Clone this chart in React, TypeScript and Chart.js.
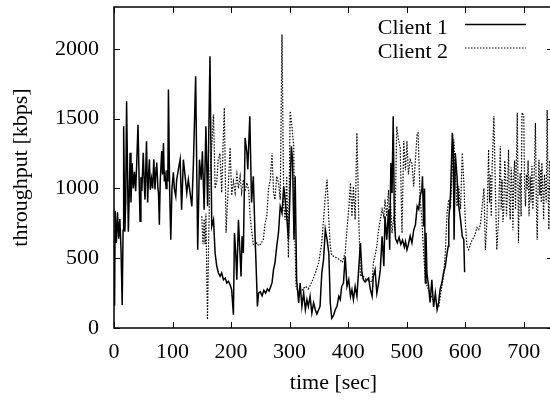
import React, { useEffect, useRef } from "react";
import { Chart, registerables } from "chart.js";

Chart.register(...registerables);

const xTickValues = [0, 100, 200, 300, 400, 500, 600, 700];
const yTickValues = [0, 500, 1000, 1500, 2000];
const seriesLabels = ["Client 1", "Client 2"];
const xTitle = "time [sec]";
const yTitle = "throughput [kbps]";

const client1Time = [
  0, 1, 2, 4, 6, 8, 10, 12, 14, 15.5, 16.5, 18.5, 20, 21.5, 24.5, 26, 27.5, 29, 31, 33, 35, 37, 39, 41, 43, 44.5,
  46, 47.5, 50, 52, 53, 55.5, 57.5, 59, 60.5, 62, 64, 66, 68, 70, 72, 73, 75, 76, 77.5, 79, 81.5, 83, 84.5, 86,
  87.5, 89, 90.5, 92, 93, 95, 97, 99, 101.5, 103, 105.5, 107, 110, 113, 115.5, 118.5, 121.5, 124.3, 127, 130, 133,
  135.7, 139.5, 143, 146, 149, 151, 154, 157, 160, 164, 167, 170, 172.7, 175.6, 178.5, 181.3, 184, 187, 190, 192.7,
  195.5, 198.4, 201, 204, 205.8, 208, 209.8, 212.6, 215.5, 217, 218.8, 221, 224, 227, 228.6, 232, 235, 238, 241,
  243, 245, 247, 250, 253, 256, 259, 262, 265, 268, 270, 272.5, 275, 278, 281, 284, 287, 290, 292.4, 295, 298, 300,
  303, 305, 307.5, 309.5, 312, 315.5, 318, 321, 324, 327, 329.6, 332, 335, 338, 341, 344, 346.6, 349.6, 352, 355,
  358, 361, 364, 367, 369.5, 372, 375, 378, 381, 384, 386.5, 389, 392, 395, 398, 401, 404, 406.5, 409, 412, 415,
  418, 421, 423.6, 426, 429, 432, 435, 438, 441, 443, 446, 449, 452, 455, 458, 461, 463, 466, 469, 471, 473, 475,
  477, 479, 481, 484, 487, 490, 493, 496, 498, 500.5, 503, 506, 509, 512, 515, 518, 520.6, 523, 526, 527, 529,
  530.5, 532, 533, 534.6, 537.5, 540, 543, 546, 549, 552, 554.6, 557, 560, 563, 566, 569, 571, 572, 575, 578,
  579.5, 581, 583, 586, 589, 592, 595, 597.6, 599,
];
const client1Kbps = [
  600, 160, 840, 610, 830, 640, 780, 560, 165, 700, 1445, 690, 900, 1624, 690, 950, 1256, 900, 1180, 1000, 1120, 980,
  1200, 1457, 1050, 764, 1080, 980, 1256, 1000, 920, 1338, 900, 1100, 1208, 990, 1070, 1000, 1208, 993, 1150, 1185,
  1000, 970, 740, 1050, 1268, 1100, 1326, 1050, 1090, 1000, 1130, 1050, 1708, 1000, 633, 1000, 1115, 1000, 945, 1060,
  1137, 1208, 848, 1206, 1087, 968, 1063, 968, 872, 1183, 1803, 561, 1206, 1063, 1266, 848, 1445, 872, 1947, 728,
  776, 537, 442, 394, 370, 394, 346, 358, 322, 334, 310, 275, 95, 680, 537, 346, 776, 514, 370, 657, 537, 1362, 1256,
  1137, 1517, 900, 1087, 657, 418, 155, 250, 260, 230, 270, 250, 280, 265, 300, 325, 418, 466, 585, 681, 872, 824,
  1015, 920, 800, 633, 872, 1302, 1206, 633, 1087, 346, 180, 322, 155, 250, 131, 203, 155, 227, 107, 180, 131, 100,
  131, 155, 394, 490, 705, 633, 537, 180, 70, 90, 131, 155, 227, 203, 298, 322, 513, 298, 346, 227, 275, 203, 298,
  227, 418, 609, 394, 346, 330, 346, 358, 275, 227, 370, 418, 250, 322, 418, 657, 442, 800, 633, 848, 561, 1183,
  968, 1517, 776, 640, 610, 650, 600, 630, 580, 620, 560, 600, 660, 610, 700, 740, 872, 850, 945, 993, 1087, 728,
  1000, 322, 680, 394, 298, 183, 346, 150, 250, 131, 180, 275, 322, 394, 442, 537, 585, 776, 968, 1398, 1302, 633,
  1254, 1087, 872, 776, 657, 633, 400,
];

const client2Time = [
  150, 152, 154, 155.5, 157, 159.7, 162, 164, 167, 170, 172.8, 175.6, 178, 181, 184, 187, 188.5, 191.5, 194.5,
  198.4, 201, 204, 207, 210, 212.6, 215.5, 218, 221, 224, 227, 230, 232.6, 235, 238, 241, 244, 247, 250, 255, 258,
  261, 264, 267, 270, 272.6, 275, 278, 281, 284, 287, 290, 292.4, 295, 298, 301, 304, 307, 309, 311, 315.5, 321,
  327, 332, 338, 344, 349.6, 355, 358, 361, 364, 367, 369.5, 372, 378, 381, 386, 390, 395, 398, 401, 404, 406.5,
  409, 412, 415, 418, 421, 423.6, 426, 430, 435, 441, 443, 446, 449, 452, 455, 458, 461, 463, 466, 469, 471, 472.5,
  475, 478, 480, 483, 486, 489, 492, 495, 498, 500.5, 503, 506, 509, 512, 515, 518, 519.5, 523, 526, 529, 532, 535,
  540, 545, 550, 555, 560, 563, 566, 569, 572, 575, 578, 580.5, 583, 586, 589, 592, 595, 598, 600, 603, 606, 609,
  612, 615, 617.5, 620, 623, 626, 629, 632, 634.5, 637, 640, 641.5, 643, 644.5, 646, 649, 651.6, 654, 657, 660,
  661.5, 663, 664.5, 666, 667.5, 669, 670.5, 672, 674, 675.5, 677, 678.5, 680, 681.5, 683, 684.5, 686, 689, 691,
  692.5, 694, 695.5, 697, 700, 701.5, 703, 704.5, 706, 707.5, 709, 711, 712.5, 714, 715.5, 717, 718.5, 720, 721.5,
  723, 724.5, 726, 727.5, 729, 730, 731, 732.5, 734, 735.5, 737, 738.5, 740, 741.5, 743, 744.5, 746, 748, 750,
];
const client2Kbps = [
  800, 600, 780, 600, 820, 60, 700, 1112, 1300, 1530, 1000, 1050, 1206, 1250, 970, 1400, 1577, 683, 950, 1292, 950,
  1050, 970, 1100, 1000, 1087, 970, 1063, 980, 1040, 990, 800, 700, 600, 585, 610, 590, 600, 630, 746, 800, 1000,
  1060, 1254, 968, 920, 1087, 1040, 920, 2103, 872, 776, 1087, 503, 1553, 1446, 1302, 633, 298, 250, 270, 298, 280,
  330, 394, 466, 611, 776, 943, 1063, 776, 585, 520, 510, 500, 490, 470, 540, 705, 850, 1039, 800, 1015, 776, 1398,
  824, 370, 380, 370, 350, 340, 330, 466, 520, 585, 700, 776, 850, 800, 920, 800, 990, 728, 900, 680, 800, 700, 1445,
  1350, 1289, 680, 1340, 1130, 1340, 1100, 1206, 1180, 1015, 1210, 1398, 1398, 920, 776, 537, 346, 300, 250, 200,
  180, 160, 298, 370, 537, 824, 920, 872, 1150, 1350, 1150, 872, 1015, 850, 1254, 1015, 776, 585, 561, 600,
  633, 650, 680, 720, 705, 740, 872, 1000, 560, 750, 1278, 900, 1100, 800, 1150, 1517, 990, 560, 776, 1302,
  850, 1063, 760, 850, 1200, 1110, 800, 950, 1278, 900, 776, 1150, 1040, 700, 1090, 1200, 850, 1543, 611,
  1000, 1110, 800, 1543, 1520, 1000, 872, 1100, 990, 1200, 800, 1087, 900, 1160, 850, 990, 1200, 1469, 900,
  633, 1000, 1206, 950, 1137, 900, 1183, 1000, 776, 1100, 1015, 900, 1562, 1000, 705, 1200, 1100, 900, 1300,
];

const FONT_FAMILY = '"Liberation Serif", "Times New Roman", serif';
const FONT_SIZE = 22;

const gnuplotFrame = {
  id: "gnuplotFrame",
  afterDraw(chart: any) {
    const { ctx, chartArea } = chart;
    const { left, right, top, bottom } = chartArea;
    const xs = chart.scales.x;
    const ys = chart.scales.y;
    const tick = 6;
    ctx.save();
    ctx.strokeStyle = "#000";
    ctx.lineWidth = 1;
    ctx.setLineDash([]);
    ctx.beginPath();
    xs.ticks.forEach((t: any) => {
      const px = Math.round(xs.getPixelForValue(t.value)) + 0.5;
      ctx.moveTo(px, bottom);
      ctx.lineTo(px, bottom - tick);
      ctx.moveTo(px, top);
      ctx.lineTo(px, top + tick);
    });
    ys.ticks.forEach((t: any) => {
      const py = Math.round(ys.getPixelForValue(t.value)) + 0.5;
      ctx.moveTo(left, py);
      ctx.lineTo(left + tick, py);
      ctx.moveTo(right, py);
      ctx.lineTo(right - tick, py);
    });
    ctx.stroke();
    ctx.lineWidth = 1.5;
    ctx.strokeRect(left, top, right - left, bottom - top);

    // key (legend), gnuplot style: text then sample, inside top-right
    ctx.font = `${FONT_SIZE}px ${FONT_FAMILY}`;
    ctx.fillStyle = "#000";
    ctx.textAlign = "right";
    ctx.textBaseline = "alphabetic";
    chart.data.datasets.forEach((ds: any, i: number) => {
      const rowY = top + 17.6 + i * 23.4;
      ctx.fillText(ds.label, right - 105, rowY + 9.8);
      ctx.beginPath();
      ctx.lineWidth = ds.borderWidth;
      ctx.setLineDash(ds.borderDash || []);
      ctx.strokeStyle = ds.borderColor;
      ctx.moveTo(right - 88, rowY);
      ctx.lineTo(right - 27, rowY);
      ctx.stroke();
    });
    ctx.restore();
  },
};

export default function App() {
  const canvasRef = useRef<HTMLCanvasElement | null>(null);

  useEffect(() => {
    const canvas = canvasRef.current;
    if (!canvas) return;
    const data1 = client1Time.map((t, i) => ({ x: t, y: client1Kbps[i] }));
    const data2 = client2Time.map((t, i) => ({ x: t, y: client2Kbps[i] }));
    const chart = new Chart(canvas, {
      type: "line",
      data: {
        datasets: [
          {
            label: seriesLabels[0],
            data: data1,
            borderColor: "#000",
            borderWidth: 1.5,
            pointRadius: 0,
            tension: 0,
            fill: false,
            order: 1,
          },
          {
            label: seriesLabels[1],
            data: data2,
            borderColor: "#000",
            borderWidth: 1.2,
            borderDash: [1.5, 1.5],
            pointRadius: 0,
            tension: 0,
            fill: false,
            order: 0,
          },
        ],
      },
      options: {
        responsive: false,
        maintainAspectRatio: false,
        devicePixelRatio: 1,
        animation: false,
        layout: { padding: { top: 7, right: 7, left: 0, bottom: 0 } },
        plugins: {
          legend: { display: false },
          tooltip: { enabled: false },
        },
        scales: {
          x: {
            type: "linear",
            min: 0,
            max: 750,
            afterFit: (scale: any) => {
              scale.height = 72;
              scale.paddingLeft = 0;
              scale.paddingRight = 0;
              scale.paddingTop = 0;
              scale.paddingBottom = 0;
            },
            afterBuildTicks: (scale: any) => {
              scale.ticks = xTickValues.map((v) => ({ value: v }));
            },
            ticks: {
              includeBounds: false,
              padding: 11,
              color: "#000",
              maxRotation: 0,
              autoSkip: false,
              font: { family: FONT_FAMILY, size: FONT_SIZE },
              callback: (v: any) => String(v),
            },
            grid: { display: false, drawTicks: false },
            border: { display: false },
            title: {
              display: true,
              text: xTitle,
              color: "#000",
              font: { family: FONT_FAMILY, size: FONT_SIZE },
              padding: { top: 0, bottom: 4 },
            },
          },
          y: {
            type: "linear",
            min: 0,
            max: 2300,
            afterFit: (scale: any) => {
              scale.width = 114;
              scale.paddingLeft = 0;
              scale.paddingRight = 0;
              scale.paddingTop = 0;
              scale.paddingBottom = 0;
            },
            afterBuildTicks: (scale: any) => {
              scale.ticks = yTickValues.map((v) => ({ value: v }));
            },
            ticks: {
              includeBounds: false,
              padding: 15,
              color: "#000",
              autoSkip: false,
              font: { family: FONT_FAMILY, size: FONT_SIZE },
              callback: (v: any) => String(v),
            },
            grid: { display: false, drawTicks: false },
            border: { display: false },
            title: {
              display: true,
              text: yTitle,
              color: "#000",
              font: { family: FONT_FAMILY, size: FONT_SIZE },
              padding: { top: 8.5, bottom: 0 },
            },
          },
        },
      },
      plugins: [gnuplotFrame],
    });
    return () => chart.destroy();
  }, []);

  return (
    <div
      style={{
        position: "absolute",
        left: 0,
        top: 0,
        width: 550,
        height: 400,
        overflow: "hidden",
        background: "#fff",
      }}
    >
      <canvas ref={canvasRef} width={560} height={400} style={{ display: "block" }} />
    </div>
  );
}
